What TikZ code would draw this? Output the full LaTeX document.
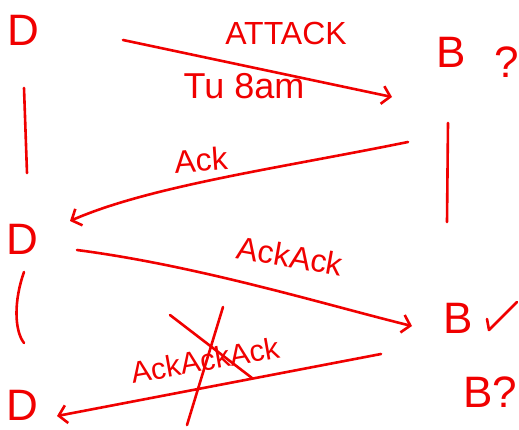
\documentclass[tikz,border=0pt]{standalone}
\usepackage{fontspec}
\setmainfont{Liberation Sans}
\usetikzlibrary{arrows.meta}
\definecolor{ink}{RGB}{240,0,0}
\tikzset{
  ink/.style={draw=ink, line width=2.6pt, line cap=round, line join=round},
  msg/.style={ink, -{Straight Barb[length=8pt,width=18pt,line width=2.6pt]}},
  party/.style={text=ink, inner sep=0pt, font=\fontsize{44}{48}\selectfont},
  lbl/.style={text=ink, inner sep=0pt, font=\fontsize{32}{36}\selectfont},
}
\begin{document}
\begin{tikzpicture}[x=1pt,y=1pt]
\useasboundingbox (0,0) rectangle (519,-429);
% parties
\node[party] (D1) at (23,-30) {D};
\node[party] (D2) at (22,-239) {D};
\node[party] (D3) at (22,-405) {D};
\node[party] (B1) at (451,-52) {B};
\node[party] (Q1) at (507,-62) {?};
\node[party] (B2) at (458,-318) {B};
\node[party] (B3) at (478,-392) {B};
\node[party] (Q3) at (505,-392) {?};
% timelines
\coordinate (lt1) at (24,-88);  \coordinate (lb1) at (27,-173);
\coordinate (lt2) at (24,-272); \coordinate (lb2) at (24,-343);
\coordinate (rt1) at (448,-123); \coordinate (rb1) at (447,-222);
\draw[ink] (lt1) -- (lb1);
\draw[ink] (lt2) .. controls (14,-300) and (14,-330) .. (lb2);
\draw[ink] (rt1) -- (rb1);
% messages
\coordinate (m1s) at (123,-40);  \coordinate (m1e) at (392,-97);
\coordinate (m2s) at (408,-142); \coordinate (m2e) at (70,-221);
\coordinate (m3s) at (77,-250);  \coordinate (m3e) at (412,-326);
\coordinate (m4s) at (381,-354); \coordinate (m4e) at (57,-416);
\draw[msg] (m1s) -- (m1e);
\draw[msg] (m2s) .. controls (280,-168) and (150,-186) .. (m2e);
\draw[msg] (m3s) .. controls (200,-266) and (330,-306) .. (m3e);
\draw[msg] (m4s) -- (m4e);
% labels
\node[lbl] (L1) at (286,-33) {ATTACK};
\node[lbl, font=\fontsize{36}{40}\selectfont] (L1b) at (244,-86) {Tu 8am};
\node[lbl, rotate=4] (L2) at (201,-160) {Ack};
\node[lbl, rotate=-10] (L3) at (290,-256) {AckAck};
\node[lbl, rotate=10, font=\fontsize{30}{34}\selectfont] (L4) at (205,-360) {AckAckAck};
% lost message (crossed out)
\coordinate (x1a) at (170,-315); \coordinate (x1b) at (252,-378);
\coordinate (x2a) at (187,-425); \coordinate (x2b) at (223,-307);
\draw[ink] (x1a) -- (x1b);
\draw[ink] (x2a) -- (x2b);
% check mark
\coordinate (c1) at (487,-319); \coordinate (c2) at (489,-330); \coordinate (c3) at (517,-302);
\draw[ink] (c1) -- (c2) -- (c3);
\end{tikzpicture}
\end{document}
